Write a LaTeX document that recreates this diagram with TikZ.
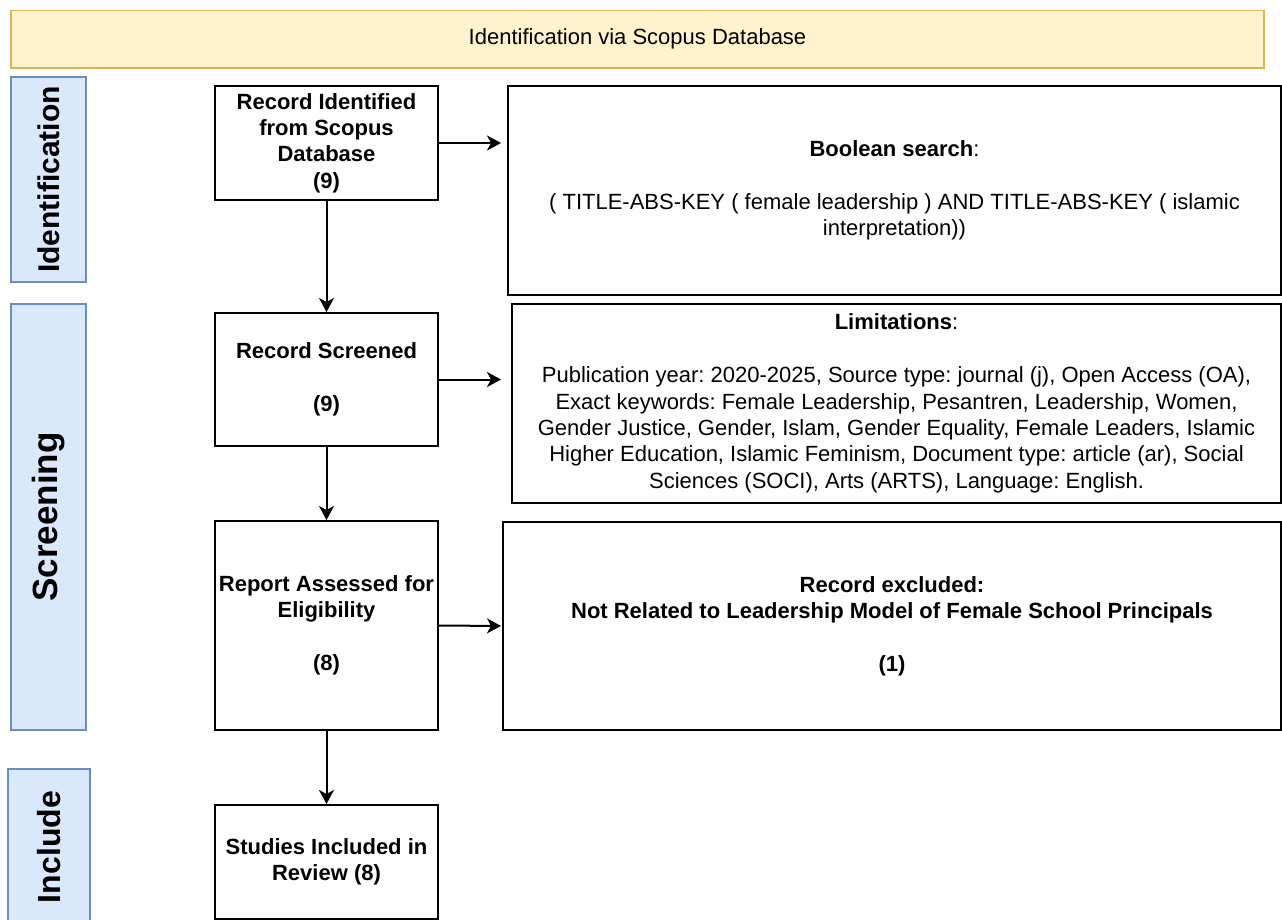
\documentclass[tikz,border=0pt]{standalone}
\usepackage{fontspec}
\setmainfont{Liberation Sans}
\usetikzlibrary{arrows.meta,calc}

\definecolor{bannerfill}{HTML}{FFF2CC}
\definecolor{bannerline}{HTML}{D6B656}
\definecolor{stagefill}{HTML}{DAE8FC}
\definecolor{stageline}{HTML}{6C8EBF}
\newcommand{\boxfont}{\fontsize{22}{26.4}\selectfont\frenchspacing}
\newcommand{\gap}{\\[26.4pt]}

\begin{document}
\begin{tikzpicture}[x=1pt,y=-1pt,
  banner/.style={draw=bannerline, fill=bannerfill, line width=1.8pt, inner sep=0,
    minimum width=1253, minimum height=57.5, font=\boxfont},
  stage/.style={draw=stageline, fill=stagefill, line width=1.8pt, rotate=90, inner sep=0},
  stepbox/.style={draw, line width=2pt, align=center, inner sep=0,
    minimum width=223, font=\boxfont\bfseries},
  infobox/.style={draw, line width=2pt, align=center, inner sep=0, font=\boxfont},
  flow/.style={line width=2pt, -{Stealth[length=14pt,width=15pt,inset=4pt]}}]
\useasboundingbox (0,0) rectangle (1282,920);

\node[banner] (top) at (637.5,39.25) {Identification via Scopus Database};

\node[stage, minimum width=205, minimum height=75,
  font=\fontsize{30}{36}\selectfont\bfseries] (sid) at (48.5,179.5) {Identification};
\node[stage, minimum width=426, minimum height=75,
  font=\fontsize{35}{40}\selectfont\bfseries] (sscr) at (48.5,517) {Screening};
\node[stage, minimum width=156, minimum height=82,
  font=\fontsize{32}{38}\selectfont\bfseries] (sinc) at (49,847) {Include};

\node[stepbox, minimum height=114] (rec) at (326.5,143)
  {Record Identified\\from Scopus\\Database\\(9)};
\node[stepbox, minimum height=133] (scr) at (326.5,379.5)
  {Record Screened\gap(9)};
\node[stepbox, minimum height=209] (elig) at (326.5,625.5)
  {Report Assessed for\\Eligibility\gap(8)};
\node[stepbox, minimum height=114] (incl) at (326.5,862)
  {Studies Included in\\Review (8)};

\node[infobox, minimum width=773, minimum height=209] (bool) at (894.5,190.5)
  {\textbf{Boolean search}:\gap
   ( TITLE-ABS-KEY ( female leadership ) AND TITLE-ABS-KEY ( islamic\\
   interpretation))};
\node[infobox, minimum width=769, minimum height=199] (limit) at (896.5,403.5)
  {\textbf{Limitations}:\gap
   Publication year: 2020-2025, Source type: journal (j), Open Access (OA),\\
   Exact keywords: Female Leadership, Pesantren, Leadership, Women,\\
   Gender Justice, Gender, Islam, Gender Equality, Female Leaders, Islamic\\
   Higher Education, Islamic Feminism, Document type: article (ar), Social\\
   Sciences (SOCI), Arts (ARTS), Language: English.};
\node[infobox, minimum width=778, minimum height=208, font=\boxfont\bfseries] (excl) at (892,626)
  {Record excluded:\\Not Related to Leadership Model of Female School Principals\gap(1)};

\foreach \a/\b in {rec/scr,scr/elig,elig/incl}
  \draw[flow] (\a) -- (\b);
\draw[flow, shorten >=6] (rec.east) -- (rec.east -| bool.west);
\draw[flow, shorten >=10] (scr.east) -- (scr.east -| limit.west);
\draw[flow, shorten >=1] (elig.east) -- (excl.west);
\end{tikzpicture}
\end{document}
